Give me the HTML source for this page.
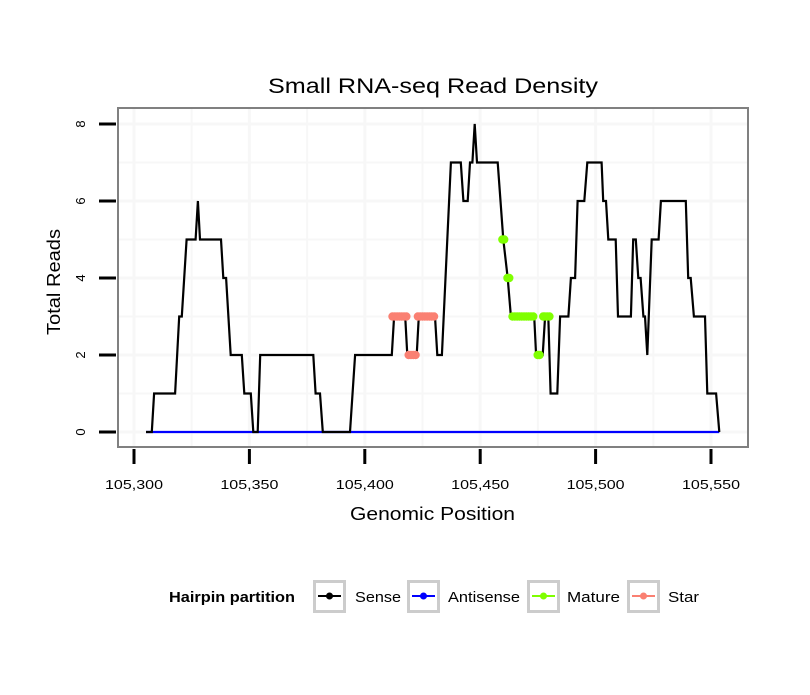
<!DOCTYPE html>
<html><head><meta charset="utf-8"><style>
body{margin:0;background:#fff;font-family:"Liberation Sans",sans-serif;}
svg text{font-family:"Liberation Sans",sans-serif;}
</style></head><body>
<svg id="chart" width="810" height="690" xmlns="http://www.w3.org/2000/svg">
<rect width="810" height="690" fill="#fff"/>
<text x="268" y="93" font-size="21" textLength="330" lengthAdjust="spacingAndGlyphs">Small RNA-seq Read Density</text>
<g id="grid"></g>
<g id="series"></g>
<rect x="118" y="108" width="630" height="339" fill="none" stroke="#808080" stroke-width="2"/>
<g id="axes"></g>
<text x="350" y="520" font-size="18" textLength="165" lengthAdjust="spacingAndGlyphs">Genomic Position</text>
<text transform="translate(60,335) rotate(-90)" font-size="18" textLength="106" lengthAdjust="spacingAndGlyphs">Total Reads</text>
<g>
<text x="169" y="602" font-size="15" font-weight="bold" textLength="126" lengthAdjust="spacingAndGlyphs">Hairpin partition</text>
<g>
<rect x="314.5" y="581.5" width="30" height="30" fill="#fff" stroke="#ccc" stroke-width="3"/>
<line x1="318" y1="596" x2="341" y2="596" stroke="#000" stroke-width="2"/><circle cx="329.5" cy="596" r="3.5" fill="#000"/>
<text x="355" y="602" font-size="15" textLength="46" lengthAdjust="spacingAndGlyphs">Sense</text></g>
<g>
<rect x="408.5" y="581.5" width="30" height="30" fill="#fff" stroke="#ccc" stroke-width="3"/>
<line x1="412" y1="596" x2="435" y2="596" stroke="#00f" stroke-width="2"/><circle cx="423.5" cy="596" r="3.5" fill="#00f"/>
<text x="448" y="602" font-size="15" textLength="72" lengthAdjust="spacingAndGlyphs">Antisense</text></g>
<g>
<rect x="528.5" y="581.5" width="30" height="30" fill="#fff" stroke="#ccc" stroke-width="3"/>
<line x1="532" y1="596" x2="555" y2="596" stroke="#7fff00" stroke-width="2"/><circle cx="543.5" cy="596" r="3.5" fill="#7fff00"/>
<text x="567" y="602" font-size="15" textLength="53" lengthAdjust="spacingAndGlyphs">Mature</text></g>
<g>
<rect x="628.5" y="581.5" width="30" height="30" fill="#fff" stroke="#ccc" stroke-width="3"/>
<line x1="632" y1="596" x2="655" y2="596" stroke="#fa8072" stroke-width="2"/><circle cx="643.5" cy="596" r="3.5" fill="#fa8072"/>
<text x="668" y="602" font-size="15" textLength="31" lengthAdjust="spacingAndGlyphs">Star</text></g>
</g>
</svg>
<script>
const senseX=[105305.2,105307.7,105308.7,105317.8,105319.6,105320.7,105322.8,105326.7,105327.7,105328.6,105337.7,105338.7,105339.9,105341.9,105346.7,105347.8,105350.6,105351.7,105353.6,105354.7,105377.7,105378.7,105380.6,105381.8,105393.6,105395.8,105411.7,105412.7,105417.5,105418.4,105422.5,105423.4,105430.4,105431.4,105433.4,105437.3,105441.6,105442.7,105444.6,105445.6,105446.6,105447.6,105448.6,105457.6,105460.0,105461.9,105463.3,105473.4,105474.2,105477.1,105478.1,105479.5,105480.5,105483.4,105484.6,105488.2,105489.3,105491.1,105492.2,105495.1,105496.4,105502.6,105503.3,105504.5,105505.5,105508.7,105509.7,105515.3,105516.3,105517.4,105518.5,105519.5,105520.7,105521.4,105522.4,105524.3,105527.3,105528.3,105539.1,105540.1,105541.2,105542.6,105547.4,105548.4,105552.2,105553.6];
const senseY=[0,0,1,1,3,3,5,5,6,5,5,4,4,2,2,1,1,0,0,2,2,1,1,0,0,2,2,3,3,2,2,3,3,2,2,7,7,6,6,7,7,8,7,7,5,4,3,3,2,2,3,3,1,1,3,3,4,4,6,6,7,7,6,6,5,5,3,3,5,5,4,4,3,3,2,5,5,6,6,4,4,3,3,1,1,0];
const antisenseX=[105305.2,105553.6];
const antisenseY=[0,0];
const matureX=[105459.6,105460.4,105461.8,105462.6,105464,105465,105466,105467,105468,105469,105470,105471,105472,105473,105474.9,105475.7,105477.3,105478,105479,105480];
const matureY=[5,5,4,4,3,3,3,3,3,3,3,3,3,3,2,2,3,3,3,3];
const starX=[105412,105413,105414,105415,105416,105417,105418,105419,105420,105421,105422,105423,105424,105425,105426,105427,105428,105429,105430];
const starY=[3,3,3,3,3,3,3,2,2,2,2,3,3,3,3,3,3,3,3];
const xTicks=[105300,105350,105400,105450,105500,105550];
const xTickLabels=["105,300","105,350","105,400","105,450","105,500","105,550"];
const yTicks=[0,2,4,6,8];
const yTickLabels=["0","2","4","6","8"];

const NS="http://www.w3.org/2000/svg";
function sx(v){return 134+(v-105300)*(577/250);}
function sy(v){return 432-v*38.5;}
function mk(tag,attrs,parent){const e=document.createElementNS(NS,tag);for(const k in attrs)e.setAttribute(k,attrs[k]);parent.appendChild(e);return e;}
const grid=document.getElementById('grid'),series=document.getElementById('series'),axes=document.getElementById('axes');
for(let v=105275;v<=105575;v+=25){const x=sx(v);if(x<119||x>747)continue;
const g=mk('line',{x1:x,x2:x,y1:109,y2:446,stroke:'#f7f7f7','stroke-width':v%50===0?3:2},grid);

}
for(let v=-1;v<=9;v++){const y=sy(v);if(y<109||y>446)continue;
const g=mk('line',{x1:119,x2:747,y1:y,y2:y,stroke:'#f7f7f7','stroke-width':v%2===0?3:2},grid);

}
function path(xs,ys,color,name){let d='';for(let i=0;i<xs.length;i++)d+=(i?'L':'M')+sx(xs[i]).toFixed(1)+','+sy(ys[i]).toFixed(1);
const p=mk('path',{d:d,fill:'none',stroke:color,'stroke-width':2.2,'stroke-linejoin':'miter'},series);

}
path(antisenseX,antisenseY,'#0000ff','antisense-line');
path(senseX,senseY,'#000','sense-line');
function pts(xs,ys,color,name){for(let i=0;i<xs.length;i++){const c=mk('circle',{cx:sx(xs[i]),cy:sy(ys[i]),r:4.2,fill:color},series);

}}
pts(matureX,matureY,'#7fff00','mature-point');
pts(starX,starY,'#fa8072','star-point');
xTicks.forEach((v,i)=>{const x=sx(v);
const t=mk('line',{x1:x,x2:x,y1:449,y2:464,stroke:'#000','stroke-width':3},axes);


const l=mk('text',{x:x-29,y:489,'font-size':13,textLength:58,lengthAdjust:'spacingAndGlyphs'},axes);l.textContent=xTickLabels[i];

});
yTicks.forEach((v,i)=>{const y=sy(v);
const t=mk('line',{x1:99,x2:116,y1:y,y2:y,stroke:'#000','stroke-width':3},axes);


const l=mk('text',{transform:`translate(85,${y}) rotate(-90)`,'font-size':13,'text-anchor':'middle'},axes);l.textContent=yTickLabels[i];

});
</script>
</body></html>
